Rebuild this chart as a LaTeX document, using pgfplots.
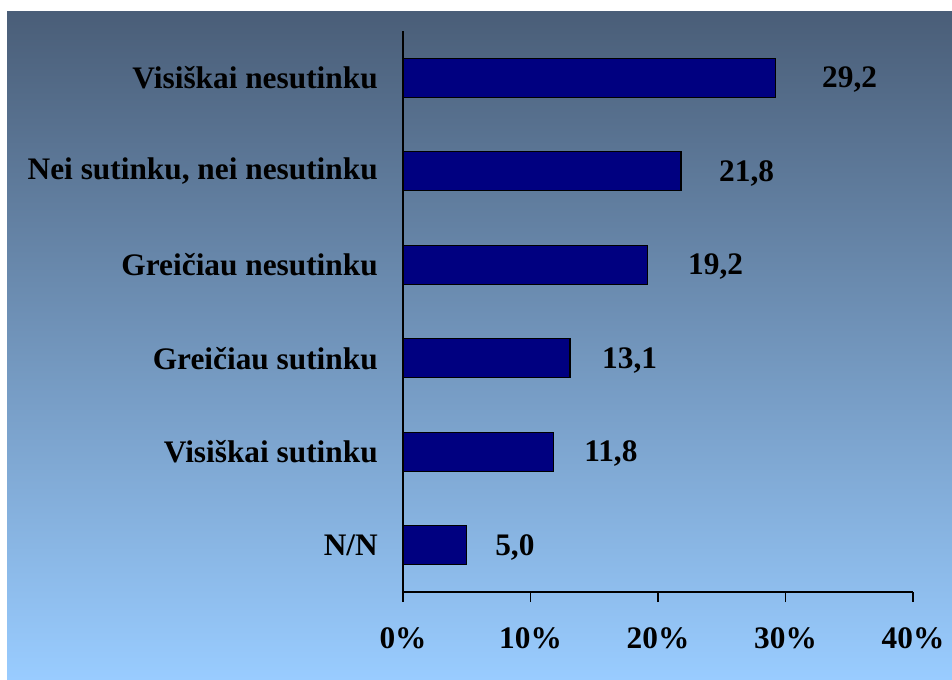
\documentclass[border=0pt]{standalone}
\usepackage{fontspec}
\setmainfont{Liberation Serif}
\usepackage{pgfplots}
\pgfplotsset{compat=1.18}
\definecolor{topc}{RGB}{74,94,120}
\definecolor{botc}{RGB}{153,204,255}
\definecolor{barc}{RGB}{0,0,128}
\begin{document}
\begin{tikzpicture}
\useasboundingbox (0,0) rectangle (714pt,509.25pt);
\fill[white] (0,0) rectangle (714pt,509.25pt);
\shade[top color=topc, bottom color=botc] (5.25pt,0) rectangle (714pt,500.25pt);
\begin{axis}[
  at={(302.25pt,65.25pt)}, anchor=south west,
  scale only axis, width=382.5pt, height=420.75pt,
  xmin=0, xmax=40, ymin=-0.5, ymax=5.5,
  axis x line=bottom, axis y line=left,
  axis line style={line width=1pt, -},
  tick align=outside, major tick length=7.5pt,
  xtick={0,10,20,30,40},
  xticklabels={0\%,10\%,20\%,30\%,40\%},
  ytick={0,1,2,3,4,5},
  yticklabels={N/N,Visiškai sutinku,Greičiau sutinku,Greičiau nesutinku,{Nei sutinku, nei nesutinku},Visiškai nesutinku},
  xtick style={line width=1pt, black},
  ytick style={draw=none},
  tick label style={font=\fontsize{23.5}{27}\selectfont\bfseries, inner sep=0pt},
  xticklabel shift=19pt,
  yticklabel shift=11.25pt,
  clip=false,
]
\addplot[xbar, bar width=0.417, fill=barc, draw=black, line width=1pt]
  coordinates {(5.0,0) (11.8,1) (13.1,2) (19.2,3) (21.8,4) (29.2,5)};
\addplot[draw=none, mark=none, point meta=explicit symbolic,
  nodes near coords,
  every node near coord/.append style={anchor=west, inner sep=0pt, yshift=-1.5pt, font=\fontsize{23.5}{27}\selectfont\bfseries}]
  table[meta=label] {
x y label
7.22 0 5,0
14.2 1 11,8
15.6 2 13,1
22.35 3 19,2
24.78 4 21,8
32.86 5 29,2
};
\end{axis}
\end{tikzpicture}
\end{document}
